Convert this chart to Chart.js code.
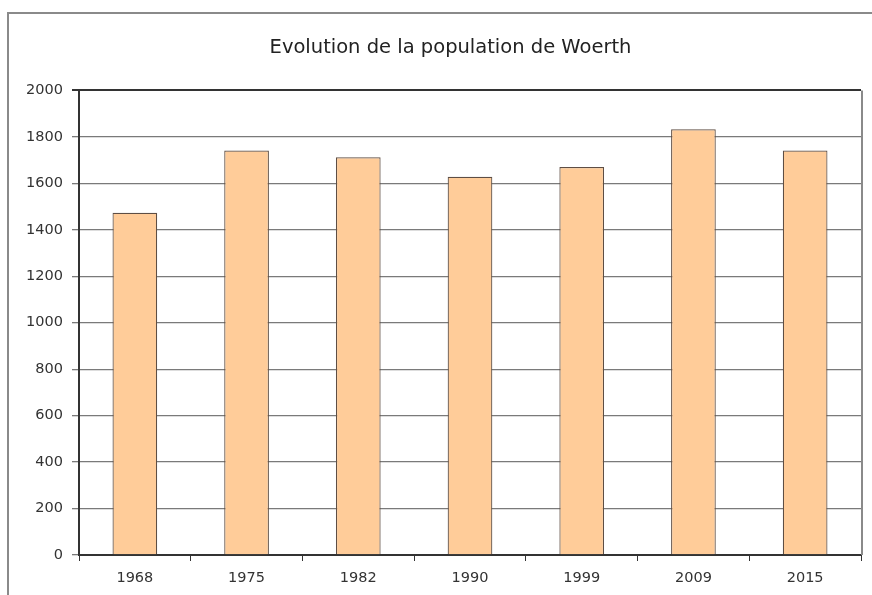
<!DOCTYPE html>
<html>
<head>
<meta charset="utf-8">
<script src="https://cdn.jsdelivr.net/npm/chart.js@4"></script>
<style>
  html, body { margin: 0; padding: 0; background: #fff; }
  body { width: 872px; height: 595px; position: relative; overflow: hidden; }
  #frame { position: absolute; left: 7px; top: 12px; width: 900px; height: 620px;
           border: 2px solid #8a8a8a; box-sizing: border-box; }
  #wrap { position: absolute; left: 0; top: 0; width: 872px; height: 595px; }
</style>
</head>
<body>
<div id="frame"></div>
<div id="wrap"><canvas id="c" width="872" height="595"></canvas></div>
<script>
// Recensements de la population de Woerth
const years = ['1968', '1975', '1982', '1990', '1999', '2009', '2015'];
const population = [1473, 1741, 1712, 1628, 1670, 1833, 1741];
const yTicks = [0, 200, 400, 600, 800, 1000, 1200, 1400, 1600, 1800, 2000];

const FONT = "'DejaVu Sans', Verdana, sans-serif";

// Trait de bordure à droite de la zone de tracé, et titre centré sur le cadre
const plotFrame = {
  id: 'plotFrame',
  afterLayout(chart) {
    if (chart.titleBlock) {
      chart.titleBlock.left = 40;
    }
  },
  beforeDatasetsDraw(chart) {
    const { ctx, chartArea: a } = chart;
    ctx.save();
    ctx.strokeStyle = '#8a8a8a';
    ctx.lineWidth = 2;
    ctx.beginPath();
    ctx.moveTo(a.right + 1, a.top);
    ctx.lineTo(a.right + 1, a.bottom);
    ctx.stroke();
    ctx.restore();
  }
};

new Chart(document.getElementById('c'), {
  type: 'bar',
  data: {
    labels: years,
    datasets: [{
      data: population,
      backgroundColor: '#ffcc99',
      borderColor: '#5e4e44',
      borderWidth: 1.2,
      barPercentage: 0.4,
      categoryPercentage: 1.0
    }]
  },
  plugins: [plotFrame],
  options: {
    responsive: false,
    animation: false,
    layout: { padding: { left: 0, right: 11, top: 0, bottom: 0 } },
    plugins: {
      legend: { display: false },
      tooltip: { enabled: false },
      title: {
        display: true,
        text: 'Evolution de la population de Woerth',
        color: '#222',
        font: { family: FONT, size: 19.5, weight: 'normal' },
        padding: { top: 36, bottom: 31 }
      }
    },
    scales: {
      x: {
        grid: {
          display: true,
          offset: true,
          drawOnChartArea: false,
          drawTicks: true,
          tickLength: 6,
          color: '#333',
          lineWidth: 1
        },
        border: { display: true, color: '#333', width: 2 },
        ticks: {
          color: '#333',
          font: { family: FONT, size: 14.5 },
          padding: 9,
          maxRotation: 0
        },
        afterFit(scale) { scale.height = 40; }
      },
      y: {
        min: 0,
        max: 2000,
        afterBuildTicks(scale) { scale.ticks = yTicks.map(v => ({ value: v })); },
        grid: {
          color: ctx => (ctx.tick && ctx.tick.value === 2000) ? '#333' : '#7a7a7a',
          lineWidth: ctx => (ctx.tick && ctx.tick.value === 2000) ? 2 : 1.3,
          tickLength: 7,
          drawTicks: true
        },
        border: { display: true, color: '#333', width: 2 },
        ticks: {
          color: '#333',
          font: { family: FONT, size: 14.5 },
          padding: 9,
          callback: v => String(v)
        },
        afterFit(scale) { scale.width = 79; }
      }
    }
  }
});
</script>
</body>
</html>
